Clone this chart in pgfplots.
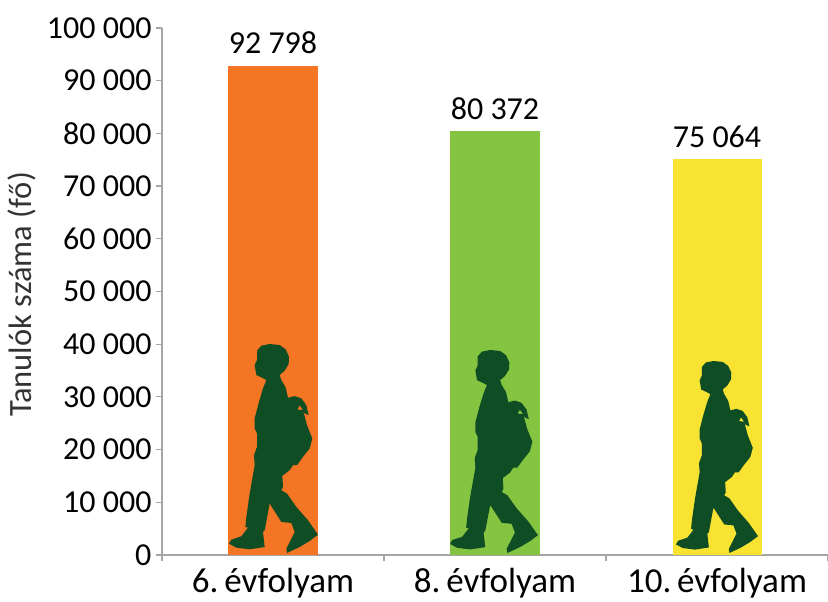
\documentclass[border=0pt]{standalone}
\usepackage{pgfplots}
\pgfplotsset{compat=1.18}
\usepackage{fontspec}
\setmainfont{Carlito}
\definecolor{axgray}{HTML}{A6A6A6}
\definecolor{cOr}{HTML}{F47524}
\definecolor{cGr}{HTML}{84C441}
\definecolor{cYe}{HTML}{F8E232}
\definecolor{cSil}{HTML}{0F4D25}
\newcommand{\boy}{(172,62)--(185,47)--(210,42)--(240,45)--(258,58)--(268,80)--(267,102)--(255,122)--(240,135)--(245,150)--(258,172)--(265,203)--(285,198)--(305,205)--(320,225)--(327,255)--(315,250)--(310,240)--(322,285)--(338,325)--(330,355)--(310,380)--(292,405)--(280,405)--(270,420)--(248,437)--(250,470)--(245,480)--(262,490)--(290,530)--(325,570)--(355,613)--(330,632)--(300,650)--(262,668)--(260,655)--(275,625)--(285,605)--(275,578)--(245,575)--(210,520)--(195,600)--(190,605)--(195,650)--(150,657)--(110,652)--(88,640)--(95,628)--(125,618)--(145,592)--(137,590)--(140,560)--(150,490)--(165,405)--(163,375)--(172,350)--(172,310)--(165,295)--(165,265)--(178,215)--(190,175)--(200,150)--(185,142)--(170,135)--(165,105)--(172,90)--cycle
(293,238)--(300,226)--(310,240)--cycle}
% #1 left px, #2 top px, #3 width px, #4 height px, #5 colour
\newcommand{\drawboy}[5]{%
  \pgfmathsetmacro{\sx}{#3/267}%
  \pgfmathsetmacro{\sy}{#4/626}%
  \pgfmathsetmacro{\ox}{#1-88*\sx}%
  \pgfmathsetmacro{\oy}{602-#2+42*\sy}%
  \fill[#5,even odd rule,shift={(\ox pt,\oy pt)},x=\sx pt,y=-\sy pt] \boy;%
}
\newcommand{\lblfont}{\fontsize{32}{32}\selectfont}
\newcommand{\catfont}{\fontsize{35}{35}\selectfont}
\begin{document}
\begin{tikzpicture}[x=1pt,y=1pt]
\path[use as bounding box] (0,0) rectangle (828,602);
\begin{axis}[
  at={(162pt,47pt)}, anchor=south west,
  scale only axis, width=666pt, height=527pt,
  xmin=0, xmax=3, ymin=0, ymax=100000,
  axis lines=left, axis line style={draw=axgray, line width=1.5pt, -},
  tick style={draw=axgray, line width=1.2pt},
  major tick length=6pt,
  tick align=outside,
  xtick={0,1,2,3}, xticklabels={},
  ytick={0,10000,20000,30000,40000,50000,60000,70000,80000,90000,100000},
  yticklabels={0,10 000,20 000,30 000,40 000,50 000,60 000,70 000,80 000,90 000,100 000},
  scaled y ticks=false,
  ticklabel style={font=\lblfont, text=black},
  yticklabel style={xshift=-1pt},
  clip=false,
]
\addplot[ybar, bar width=89pt, fill=cOr, draw=none, bar shift=0pt] coordinates {(0.5,92798)};
\addplot[ybar, bar width=89pt, fill=cGr, draw=none, bar shift=0pt] coordinates {(1.5,80372)};
\addplot[ybar, bar width=89pt, fill=cYe, draw=none, bar shift=0pt] coordinates {(2.5,75064)};
\node[font=\lblfont, anchor=base] at (axis cs:0.5,92798) [yshift=12pt] {92 798};
\node[font=\lblfont, anchor=base] at (axis cs:1.5,80372) [yshift=12pt] {80 372};
\node[font=\lblfont, anchor=base] at (axis cs:2.5,75064) [yshift=12pt] {75 064};
\node[font=\catfont, anchor=base] at (axis cs:0.5,0) [yshift=-38pt] {6.\,évfolyam};
\node[font=\catfont, anchor=base] at (axis cs:1.5,0) [yshift=-38pt] {8.\,évfolyam};
\node[font=\catfont, anchor=base] at (axis cs:2.5,0) [yshift=-38pt] {10.\,évfolyam};
\end{axis}
\node[font=\fontsize{32.5}{32.5}\selectfont, text=black!80, rotate=90, anchor=base] at (31,307.5) {Tanulók száma (fő)};
\drawboy{229}{344}{89}{209}{cSil}
\drawboy{450}{350}{88}{203}{cSil}
\drawboy{676}{361}{82}{192}{cSil}
\end{tikzpicture}
\end{document}
